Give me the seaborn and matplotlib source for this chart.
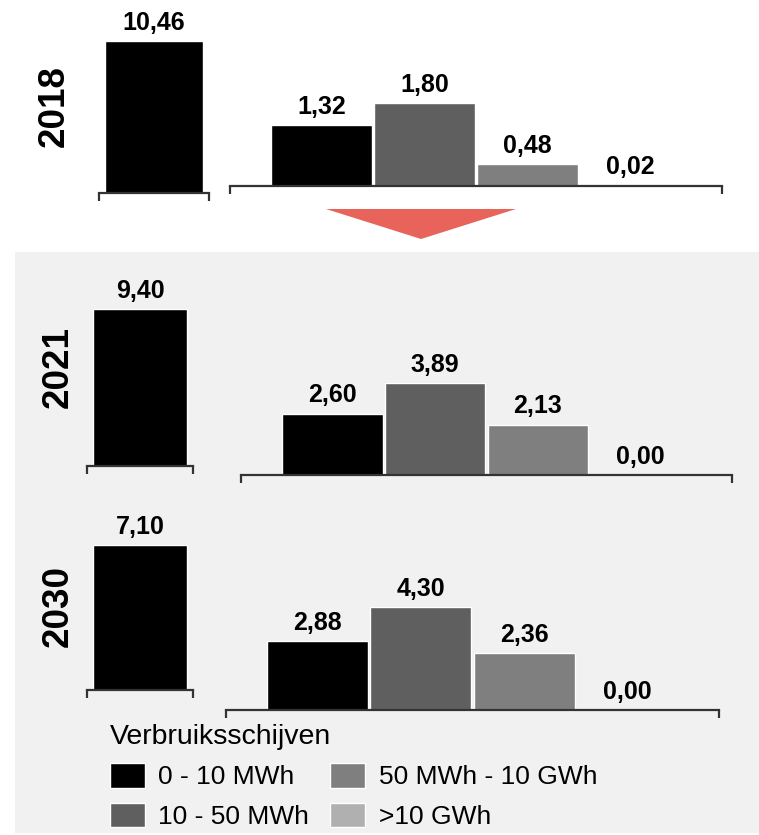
import matplotlib
matplotlib.use("Agg")
import matplotlib.pyplot as plt
from matplotlib.patches import Rectangle, Polygon, Patch
import seaborn as sns
import pandas as pd

# ---- data -------------------------------------------------------------
years = ["2018", "2021", "2030"]
totals = [10.46, 9.40, 7.10]
bands = ["0 - 10 MWh", "10 - 50 MWh", "50 MWh - 10 GWh", ">10 GWh"]
band_colors = ["#000000", "#5f5f5f", "#7f7f7f", "#b0b0b0"]
values_2018 = [1.32, 1.80, 0.48, 0.02]
values_2021 = [2.60, 3.89, 2.13, 0.00]
values_2030 = [2.88, 4.30, 2.36, 0.00]
legend_title = "Verbruiksschijven"

band_values = [values_2018, values_2021, values_2030]

# ---- style ------------------------------------------------------------
sns.set_style("white")
plt.rcParams["font.family"] = ["Liberation Sans", "DejaVu Sans"]
plt.rcParams["text.color"] = "black"

W, H = 759, 835
fig = plt.figure(figsize=(W / 100, H / 100), dpi=100)
fig.patch.set_facecolor("white")


def box(x0, x1, ytop, ybot):
    """Pixel box -> figure fraction rectangle."""
    return [x0 / W, 1 - ybot / H, (x1 - x0) / W, (ybot - ytop) / H]


# pixel layout of each row: left single bar, right band group, year label
layout = [
    dict(left=(99, 209, 41, 193), right=(230, 722, 103, 186), label=(54, 106)),
    dict(left=(87, 193, 309, 466), right=(241, 732, 383, 475), label=(58.5, 367)),
    dict(left=(87, 193, 545, 690), right=(226, 719, 607, 710), label=(58.5, 606)),
]

# grey panel behind the projection rows
fig.add_artist(Rectangle((15 / W, 2 / H), 1 - 15 / W, 1 - 254 / H,
                         transform=fig.transFigure, facecolor="#f1f1f1",
                         edgecolor="none", zorder=-10))

# arrow between 2018 and the projections
fig.add_artist(Polygon([(326 / W, 1 - 209 / H), (516 / W, 1 - 209 / H),
                        (421 / W, 1 - 239 / H)], closed=True,
                       transform=fig.transFigure, facecolor="#e8645a",
                       edgecolor="none"))

SPINE = "#333333"


def fmt_nl(v):
    return f"{v:.2f}".replace(".", ",")


def style_axis(ax, xlim, ytop):
    ax.set_facecolor("none")
    for s in ("left", "top", "right"):
        ax.spines[s].set_visible(False)
    ax.spines["bottom"].set_color(SPINE)
    ax.spines["bottom"].set_linewidth(1.6)
    ax.set_xlim(*xlim)
    ax.set_ylim(0, ytop)
    ax.set_xticks(list(xlim))
    ax.set_xticklabels([])
    ax.set_yticks([])
    ax.tick_params(axis="x", bottom=True, length=6, width=1.6, color=SPINE,
                   direction="out")
    ax.set_xlabel("")
    ax.set_ylabel("")


def draw_group(ax, labels, vals, colors, width):
    df = pd.DataFrame({"band": labels, "value": vals})
    sns.barplot(data=df, x="band", y="value", hue="band", order=labels,
                hue_order=labels, palette=colors, width=width,
                edgecolor="white", linewidth=1, legend=False, ax=ax,
                errorbar=None)
    for c in ax.containers:
        ax.bar_label(c, fmt=fmt_nl, padding=4.5, fontsize=18,
                     fontweight="bold", color="black")


for year, total, vals, lay in zip(years, totals, band_values, layout):
    axl = fig.add_axes(box(*lay["left"]))
    draw_group(axl, bands[:1], [total], band_colors[:1], 0.8)
    style_axis(axl, (-0.45, 0.45), total)

    axr = fig.add_axes(box(*lay["right"]))
    draw_group(axr, bands, vals, band_colors, 0.98)
    style_axis(axr, (-0.89, 3.89), max(vals))

    lx, ly = lay["label"]
    fig.text(lx / W, 1 - ly / H, year, rotation=90, ha="center",
             va="center", fontsize=26.5, fontweight="bold", color="black")

handles = [Patch(facecolor=c, edgecolor="white", linewidth=1, label=b)
           for b, c in zip(bands, band_colors)]
fig.legend(handles=handles, title=legend_title, ncol=2, loc="upper left",
           bbox_to_anchor=(110 / W, 1 - 724 / H), frameon=False,
           fontsize=19, title_fontsize=20.5, alignment="left",
           handlelength=1.33, handleheight=1.05, handletextpad=0.5,
           columnspacing=0.8, labelspacing=0.5, borderpad=0,
           borderaxespad=0, labelcolor="black")

fig.savefig("out.png", dpi=100)
